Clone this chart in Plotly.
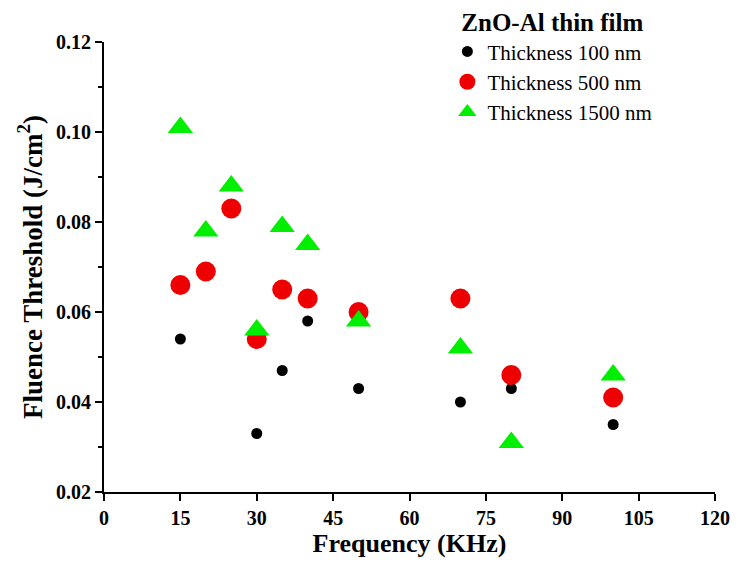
import plotly.graph_objects as go

freq_100 = [15, 30, 35, 40, 50, 70, 80, 100]
fluence_100 = [0.054, 0.033, 0.047, 0.058, 0.043, 0.040, 0.043, 0.035]

freq_500 = [15, 20, 25, 30, 35, 40, 50, 70, 80, 100]
fluence_500 = [0.066, 0.069, 0.083, 0.054, 0.065, 0.063, 0.060, 0.063, 0.046, 0.041]

freq_1500 = [15, 20, 25, 30, 35, 40, 50, 70, 80, 100]
fluence_1500 = [0.101, 0.078, 0.088, 0.056, 0.079, 0.075, 0.058, 0.052, 0.031, 0.046]

x_ticks = [0, 15, 30, 45, 60, 75, 90, 105, 120]
y_ticks = [0.02, 0.04, 0.06, 0.08, 0.10, 0.12]

font_family = "Liberation Serif, Times New Roman, serif"

fig = go.Figure()
fig.add_trace(go.Scatter(x=freq_100, y=fluence_100, mode="markers", name="Thickness 100 nm",
                         marker=dict(symbol="circle", size=11, color="black")))
fig.add_trace(go.Scatter(x=freq_500, y=fluence_500, mode="markers", name="Thickness 500 nm",
                         marker=dict(symbol="circle", size=20, color="#ee0000")))
fig.add_trace(go.Scatter(x=freq_1500, y=fluence_1500, mode="markers", name="Thickness 1500 nm",
                         marker=dict(symbol="triangle-up", size=22, color="#00ee00")))

fig.update_layout(
    width=730, height=563,
    margin=dict(l=96, r=23, t=34, b=79, autoexpand=False),
    plot_bgcolor="white", paper_bgcolor="white",
    font=dict(family=font_family, color="black"),
    showlegend=True,
    legend=dict(
        x=0.562, y=1.096, xanchor="left", yanchor="top",
        bgcolor="rgba(0,0,0,0)",
        font=dict(size=21, family=font_family, color="black"),
        title=dict(text="<b>ZnO-Al thin film</b>", side="top center",
                   font=dict(size=25, family=font_family, color="black")),
        itemsizing="trace",
        tracegroupgap=0,
    ),
    xaxis=dict(
        range=[0, 120], tickvals=x_ticks, ticktext=[str(v) for v in x_ticks],
        showgrid=False, zeroline=False, showline=True, linecolor="black", linewidth=2,
        ticks="outside", ticklen=7, tickwidth=2, tickcolor="black", automargin=False,
        tickfont=dict(size=20, family=font_family, weight="bold"),
        title=dict(text="<b>Frequency (KHz)</b>", font=dict(size=26, family=font_family), standoff=4),
    ),
    yaxis=dict(
        range=[0.02, 0.12], tickvals=y_ticks, ticktext=["%.2f" % v for v in y_ticks],
        showgrid=False, zeroline=False, showline=True, linecolor="black", linewidth=2,
        ticks="outside", ticklen=7, tickwidth=2, tickcolor="black", automargin=False,
        tickfont=dict(size=20, family=font_family, weight="bold"),
        minor=dict(ticks="outside", dtick=0.01, tick0=0.02, ticklen=4, tickwidth=2, tickcolor="black"),
        title=dict(text="<b>Fluence Threshold (J/cm<sup>2</sup>)</b>", font=dict(size=27, family=font_family), standoff=6),
    ),
)

fig.write_html("out.html")
